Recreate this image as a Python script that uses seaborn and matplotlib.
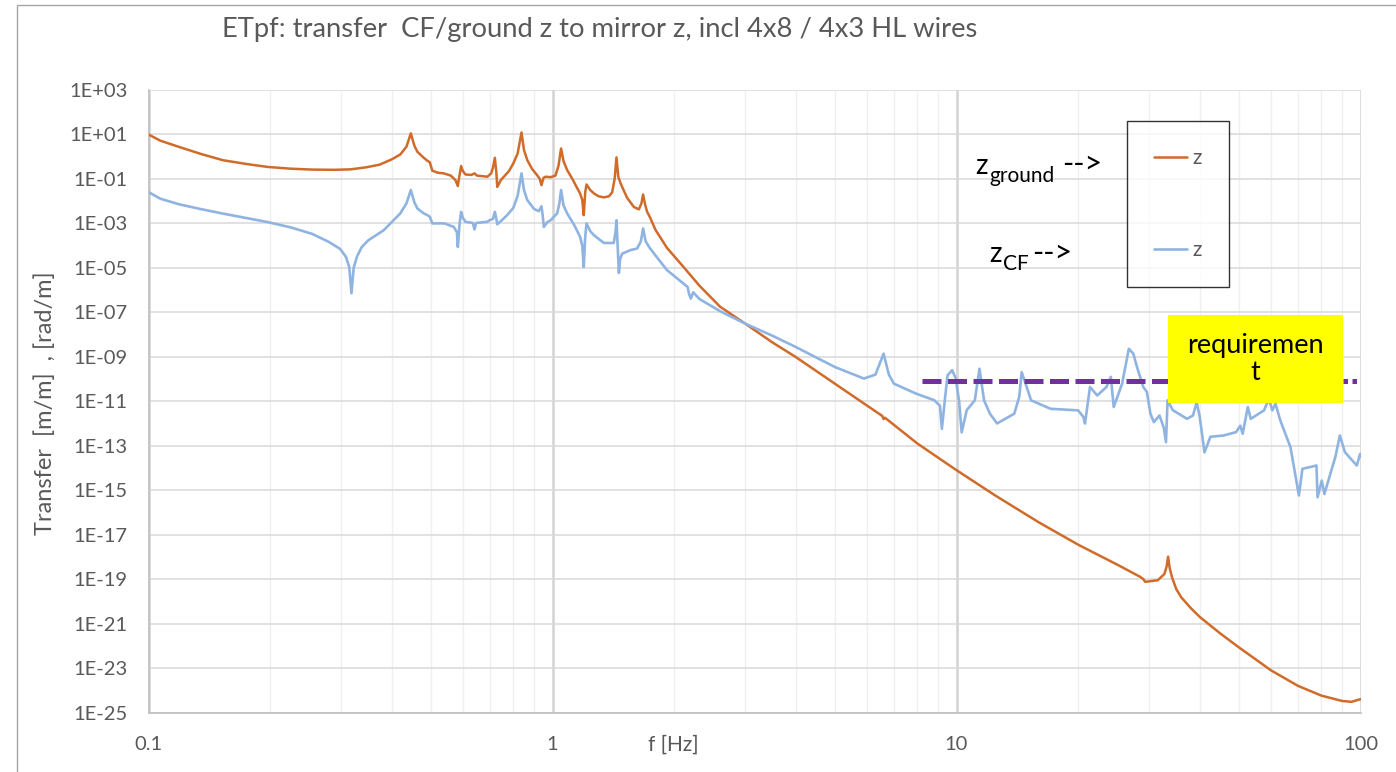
import numpy as np
import matplotlib
matplotlib.use("Agg")
import matplotlib.pyplot as plt
import matplotlib.ticker as mticker
from matplotlib.patches import Rectangle
import seaborn as sns

# ---------------- data (log10 of transfer) ----------------
f_ground = [0.100, 0.107, 0.119, 0.135, 0.153, 0.175, 0.197, 0.225, 0.254, 0.289,
            0.316, 0.345, 0.373, 0.400, 0.420, 0.435, 0.446, 0.455, 0.463, 0.480,
            0.490, 0.497, 0.504, 0.520, 0.538, 0.560, 0.575, 0.583, 0.589, 0.594,
            0.600, 0.609, 0.630, 0.641, 0.650, 0.690, 0.705, 0.712, 0.720, 0.726,
            0.730, 0.745, 0.758, 0.780, 0.800, 0.820, 0.838, 0.850, 0.866, 0.890,
            0.916, 0.930, 0.939, 0.950, 0.961, 0.990, 1.017, 1.035, 1.050, 1.065,
            1.087, 1.120, 1.150, 1.170, 1.185, 1.195, 1.205, 1.214, 1.240, 1.266,
            1.300, 1.340, 1.380, 1.405, 1.425, 1.440, 1.455, 1.474, 1.530, 1.590,
            1.636, 1.660, 1.676, 1.695, 1.715, 1.740, 1.800, 1.920, 2.110, 2.310,
            2.600, 3.000, 3.500, 4.000, 5.000, 6.000, 6.550, 6.600, 6.650, 8.000,
            10.00, 12.50, 16.00, 20.00, 25.00, 28.50, 29.00, 29.30, 30.00, 31.50,
            32.70, 33.10, 33.40, 33.70, 34.20, 35.00, 36.00, 38.00, 40.00, 45.00,
            50.00, 60.00, 70.00, 80.00, 90.00, 95.00, 100.0]
ground_exp = [1.00, 0.72, 0.44, 0.12, -0.16, -0.33, -0.46, -0.54, -0.58, -0.59,
              -0.57, -0.48, -0.36, -0.12, 0.10, 0.45, 1.05, 0.50, 0.22, -0.05,
              -0.18, -0.25, -0.63, -0.72, -0.75, -0.85, -1.05, -1.32, -0.80, -0.42,
              -0.65, -0.80, -0.82, -0.75, -0.85, -0.90, -0.75, -0.50, -0.05, -0.70,
              -1.36, -1.05, -0.90, -0.65, -0.30, 0.15, 1.09, 0.30, -0.15, -0.55,
              -0.83, -1.00, -1.28, -0.95, -0.90, -0.92, -0.85, -0.40, 0.37, -0.20,
              -0.60, -1.00, -1.40, -1.65, -1.95, -2.63, -1.60, -1.25, -1.50, -1.65,
              -1.78, -1.83, -1.78, -1.60, -1.00, -0.03, -0.90, -1.20, -1.85, -2.26,
              -2.37, -2.10, -1.70, -2.15, -2.48, -2.70, -3.30, -4.10, -4.96, -5.80,
              -6.75, -7.51, -8.35, -9.01, -10.21, -11.19, -11.66, -11.80, -11.74, -12.90,
              -14.10, -15.25, -16.45, -17.45, -18.35, -18.90, -19.00, -19.12, -19.10, -19.05,
              -18.77, -18.45, -17.99, -18.50, -18.95, -19.45, -19.82, -20.30, -20.70, -21.45,
              -22.07, -23.10, -23.80, -24.24, -24.48, -24.52, -24.40]

f_cf = [0.100, 0.107, 0.119, 0.135, 0.153, 0.175, 0.197, 0.225, 0.254, 0.280,
        0.298, 0.308, 0.314, 0.318, 0.322, 0.328, 0.337, 0.350, 0.382, 0.420,
        0.435, 0.446, 0.455, 0.463, 0.480, 0.490, 0.497, 0.504, 0.540, 0.570,
        0.580, 0.583, 0.589, 0.594, 0.600, 0.609, 0.635, 0.641, 0.647, 0.689,
        0.700, 0.712, 0.720, 0.726, 0.730, 0.750, 0.772, 0.800, 0.820, 0.838,
        0.850, 0.866, 0.900, 0.925, 0.939, 0.945, 0.952, 0.970, 0.989, 1.027,
        1.040, 1.050, 1.065, 1.087, 1.130, 1.170, 1.185, 1.195, 1.205, 1.214,
        1.240, 1.266, 1.340, 1.418, 1.432, 1.440, 1.450, 1.460, 1.470, 1.488,
        1.560, 1.620, 1.655, 1.676, 1.700, 1.740, 1.800, 1.920, 2.110, 2.160,
        2.180, 2.200, 2.230, 2.310, 2.600, 3.000, 3.500, 4.000, 5.000, 5.900,
        6.300, 6.600, 6.800, 7.000, 7.950, 8.800, 9.100, 9.200, 9.350, 9.500,
        9.750, 9.950, 10.15, 10.30, 10.60, 11.10, 11.40, 11.70, 12.10, 12.60,
        13.90, 14.30, 14.50, 15.30, 17.10, 20.00, 20.60, 20.80, 21.40, 22.30,
        23.50, 24.10, 24.50, 25.70, 26.70, 27.40, 27.90, 29.00, 29.60, 30.20,
        30.80, 31.80, 32.60, 33.00, 33.30, 34.30, 37.20, 38.50, 39.30, 40.00,
        41.10, 42.50, 45.80, 49.20, 50.40, 51.10, 52.60, 53.50, 57.70, 59.30,
        60.50, 61.60, 63.30, 67.10, 70.40, 71.80, 77.80, 78.30, 80.20, 81.40,
        86.60, 88.90, 91.50, 97.90, 99.80, 100.0]
cf_exp = [-1.59, -1.89, -2.14, -2.36, -2.56, -2.76, -2.94, -3.18, -3.47, -3.84,
          -4.15, -4.50, -4.97, -6.14, -5.00, -4.50, -4.07, -3.76, -3.31, -2.55,
          -2.10, -1.50, -2.05, -2.33, -2.55, -2.63, -2.70, -3.00, -3.00, -3.16,
          -3.40, -4.06, -3.00, -2.48, -2.75, -2.93, -2.98, -3.27, -2.98, -2.93,
          -2.85, -2.80, -2.48, -2.80, -3.04, -2.85, -2.63, -2.30, -1.75, -0.75,
          -1.50, -1.95, -2.35, -2.45, -2.23, -2.60, -3.16, -2.95, -2.86, -2.55,
          -2.10, -1.50, -2.20, -2.55, -3.05, -3.60, -4.00, -4.96, -3.60, -3.00,
          -3.35, -3.53, -3.88, -3.88, -3.40, -2.86, -4.00, -5.23, -4.60, -4.36,
          -4.20, -4.13, -3.80, -3.23, -3.80, -4.10, -4.45, -5.10, -5.71, -5.86,
          -6.20, -6.38, -6.10, -6.40, -6.95, -7.51, -8.05, -8.56, -9.46, -9.98,
          -9.80, -8.86, -9.80, -10.21, -10.66, -10.95, -11.20, -12.24, -11.00, -9.84,
          -9.60, -9.95, -11.00, -12.40, -11.40, -10.96, -9.54, -10.96, -11.56, -12.00,
          -11.56, -10.80, -9.69, -10.96, -11.34, -11.41, -11.70, -12.00, -10.36, -10.74,
          -10.36, -9.90, -11.26, -10.21, -8.64, -8.86, -9.39, -10.36, -10.58, -11.56,
          -11.94, -11.64, -12.20, -12.84, -10.96, -11.40, -11.79, -11.64, -11.04, -11.70,
          -13.30, -12.60, -12.54, -12.39, -12.10, -12.46, -11.26, -11.79, -11.41, -10.89,
          -11.41, -11.11, -11.86, -13.07, -15.24, -14.04, -13.89, -15.32, -14.57, -15.17,
          -13.52, -12.54, -13.29, -13.89, -13.37, -13.50]

req_dash_f = [8.2, 60.0]
req_dot_f = [60.0, 100.0]
req_level = 8.0e-11

ytick_exp = list(range(-25, 4, 2))
xticks = [0.1, 1, 10, 100]
xtick_labels = ["0.1", "1", "10", "100"]

title = "ETpf: transfer  CF/ground z to mirror z, incl 4x8 / 4x3 HL wires"
ylabel = "Transfer  [m/m]  , [rad/m]"
xlabel = "f [Hz]"

# ---------------- style ----------------
sns.set_style("white")
plt.rcParams["font.family"] = ["Lato", "DejaVu Sans"]

ORANGE = "#D06B2A"
BLUE = "#8FB4E1"
PURPLE = "#7030A0"
GRAY_TXT = "#595959"

W, H = 1396, 772
fig = plt.figure(figsize=(W / 100, H / 100), dpi=100)
L, R, T, B = 148.5, 1360.5, 90.0, 712.5
ax = fig.add_axes([L / W, 1 - B / H, (R - L) / W, (B - T) / H])

sns.lineplot(x=f_ground, y=10.0 ** np.array(ground_exp), ax=ax, color=ORANGE,
             lw=1.8, sort=False, estimator=None, label="z", zorder=3)
sns.lineplot(x=f_cf, y=10.0 ** np.array(cf_exp), ax=ax, color=BLUE,
             lw=1.9, sort=False, estimator=None, label="z", zorder=3)
sns.lineplot(x=req_dash_f, y=[req_level] * 2, ax=ax, color=PURPLE, lw=3.6,
             sort=False, estimator=None, zorder=4, legend=False,
             dashes=False).lines[-1].set_dashes((3.8, 1.3))
sns.lineplot(x=req_dot_f, y=[req_level] * 2, ax=ax, color=PURPLE, lw=3.6,
             sort=False, estimator=None, zorder=4, legend=False,
             dashes=False).lines[-1].set_dashes((0.9, 0.9))

ax.set_xscale("log")
ax.set_yscale("log")
ax.set_xlim(0.1, 100)
ax.set_ylim(1e-25, 1e3)

ax.yaxis.set_major_locator(mticker.FixedLocator([10.0 ** e for e in ytick_exp]))
ax.yaxis.set_minor_locator(mticker.NullLocator())
ax.set_yticklabels([f"1E{e:+03d}" for e in ytick_exp])
ax.xaxis.set_major_locator(mticker.FixedLocator(xticks))
ax.xaxis.set_minor_locator(mticker.LogLocator(base=10, subs=np.arange(2, 10)))
ax.xaxis.set_minor_formatter(mticker.NullFormatter())
ax.set_xticklabels(xtick_labels)

ax.grid(which="major", axis="y", color="#d9d9d9", lw=1.1, zorder=0)
ax.grid(which="minor", axis="x", color="#efefef", lw=0.9, zorder=0)
ax.grid(which="major", axis="x", color="#d3d3d3", lw=1.8, zorder=0)
ax.set_axisbelow(True)

for s in ["top", "right"]:
    ax.spines[s].set_visible(False)
for s in ["left", "bottom"]:
    ax.spines[s].set_color("#bfbfbf")
    ax.spines[s].set_linewidth(1.2)

ax.tick_params(axis="both", which="both", length=0, colors=GRAY_TXT, labelsize=14.5)
ax.tick_params(axis="y", pad=15)
ax.tick_params(axis="x", pad=17)
for lab in ax.get_xticklabels() + ax.get_yticklabels():
    lab.set_color(GRAY_TXT)

ax.set_xlabel("")
ax.set_ylabel("")
fig.text(673 / W, 1 - 745 / H, xlabel, ha="center", va="center",
         fontsize=15, color=GRAY_TXT)
fig.text(45 / W, 1 - 403 / H, ylabel, ha="center", va="center", rotation=90,
         fontsize=17, color=GRAY_TXT)
fig.text(222 / W, 1 - 30 / H, title, ha="left", va="center",
         fontsize=19.7, color=GRAY_TXT)

# legend (boxed, sharp corners)
leg = ax.legend(loc="upper left", bbox_to_anchor=(1127 / W, 1 - 121 / H),
                bbox_transform=fig.transFigure, frameon=True, fancybox=False,
                fontsize=15, handlelength=1.6, handletextpad=0.25,
                labelspacing=3.45, borderpad=1.3, borderaxespad=0)
leg.get_frame().set_edgecolor("#000000")
leg.get_frame().set_linewidth(1.0)
for t in leg.get_texts():
    t.set_color(GRAY_TXT)

# side annotations
fig.text(975 / W, 1 - 174 / H, "z", fontsize=20, color="black", ha="left", va="baseline")
fig.text(989 / W, 1 - 182 / H, "ground", fontsize=15, color="black", ha="left", va="baseline")
fig.text(1062 / W, 1 - 164 / H, "-->", fontsize=22, color="black", ha="left", va="center")
fig.text(989 / W, 1 - 262 / H, "z", fontsize=20, color="black", ha="left", va="baseline")
fig.text(1003 / W, 1 - 270 / H, "CF", fontsize=15, color="black", ha="left", va="baseline")
fig.text(1032 / W, 1 - 253 / H, "-->", fontsize=22, color="black", ha="left", va="center")

# requirement box
bx0 = (1168 - L) / (R - L)
bx1 = (1343 - L) / (R - L)
by0 = (B - 403) / (B - T)
by1 = (B - 315) / (B - T)
ax.add_patch(Rectangle((bx0, by0), bx1 - bx0, by1 - by0, transform=ax.transAxes,
                       facecolor="#FFFF00", edgecolor="none", zorder=5, clip_on=False))
ax.text((bx0 + bx1) / 2, (B - 359) / (B - T), "requiremen\nt", transform=ax.transAxes,
        ha="center", va="center", fontsize=19.5, color="black", zorder=6,
        linespacing=1.12)

# chart-area border
fig.add_artist(Rectangle((17 / W, -0.05), 1.1, 1.05 - 5 / H, transform=fig.transFigure,
                         fill=False, edgecolor="#a6a6a6", lw=1.0))

fig.savefig("out.png", dpi=100)
